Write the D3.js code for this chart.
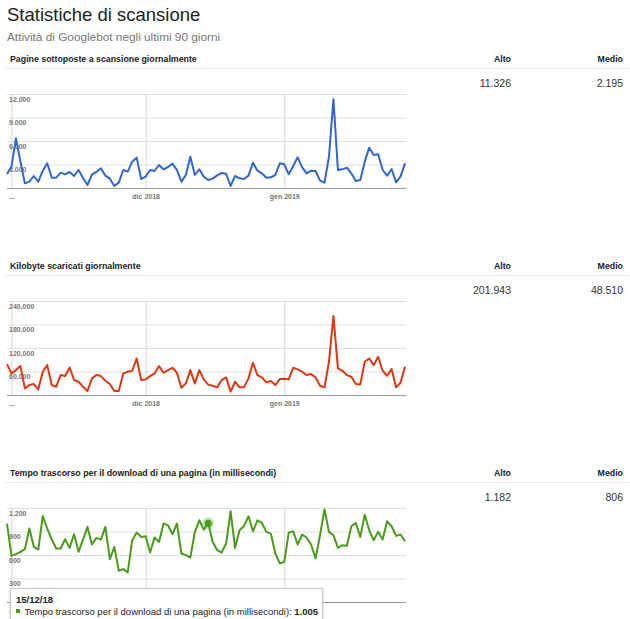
<!DOCTYPE html>
<html>
<head>
<meta charset="utf-8">
<script src="https://cdn.jsdelivr.net/npm/d3@7"></script>
<style>
	body { margin: 0; background: #fff; }
	svg { display: block; font-family: "Liberation Sans", Arial, sans-serif; }
</style>
</head>
<body>
<div class="canvas"></div>
<script>
// 90 giorni, dal 31/10/2018
const firstDay = '2018-10-31';
const monthTicks = ['2018-11-01', '2018-12-01', '2019-01-01'];
const monthLabels = ['...', 'dic 2018', 'gen 2019'];

const pagesCrawled = [
	1787, 2720, 6340, 3360, 596, 808, 1532, 808, 2213, 3150,
	1320, 1320, 1958, 1745, 2043, 1532, 2298, 1277, 383, 1745,
	2043, 2510, 1575, 1192, 255, 681, 2298, 2085, 3360, 3872,
	1150, 1447, 2298, 2170, 2936, 2383, 2681, 3107, 2298, 808,
	1660, 4000, 1660, 2383, 1447, 1021, 1192, 1617, 1915, 1830,
	255, 1532, 1234, 1149, 1575, 3234, 2213, 1872, 1319, 1362,
	1660, 3149, 3021, 1745, 2809, 3915, 2638, 1872, 2213, 2170,
	936, 681, 4000, 11326, 2298, 2383, 2596, 1872, 894, 1021,
	3362, 5149, 4213, 4298, 2298, 1575, 2426, 723, 1447, 3149
];
const kbDownloaded = [
	78900, 55100, 63600, 73800, 17000, 25400, 28000, 14400, 59400, 76300,
	25400, 21200, 50900, 48300, 70400, 38200, 33900, 21200, 10200, 42400,
	50900, 48300, 36500, 28000, 10200, 10200, 55100, 59400, 61900, 93300,
	38200, 39900, 48300, 55100, 73800, 56800, 63600, 69500, 56800, 18700,
	29700, 63600, 29700, 63600, 39900, 26500, 23700, 19500, 38200, 44900,
	8500, 33900, 19500, 19500, 42400, 82300, 50900, 44900, 32200, 35600,
	25400, 40700, 41600, 39900, 69500, 65300, 59400, 50900, 53400, 44900,
	23700, 19500, 84800, 201943, 67800, 61900, 50900, 46600, 28000, 27100,
	84800, 93300, 76300, 97500, 61900, 49200, 66100, 19500, 31400, 72100
];
const downloadMs = [
	1001, 589, 611, 640, 674, 937, 704, 670, 1098, 937,
	801, 683, 683, 801, 691, 865, 640, 797, 958, 734,
	818, 797, 958, 547, 704, 399, 420, 377, 789, 886,
	831, 840, 632, 823, 767, 1001, 979, 865, 1001, 619,
	598, 568, 895, 1043, 924, 1005, 767, 661, 632, 746,
	1158, 691, 916, 971, 1094, 903, 1043, 1009, 895, 873,
	619, 492, 513, 886, 903, 734, 861, 823, 734, 555,
	852, 1182, 895, 852, 691, 725, 717, 967, 1009, 831,
	1115, 916, 789, 895, 797, 1030, 967, 844, 861, 776
];

const sectionTitles = [
	'Pagine sottoposte a scansione giornalmente',
	'Kilobyte scaricati giornalmente',
	'Tempo trascorso per il download di una pagina (in millisecondi)'
];
const altoValues = [11326, 201943, 1182];
const medioValues = [2195, 48510, 806];
const yTicks = [
	[0, 3000, 6000, 9000, 12000],
	[0, 60000, 120000, 180000, 240000],
	[0, 300, 600, 900, 1200]
];
const series = [pagesCrawled, kbDownloaded, downloadMs];
const colors = ['#3366cc', '#dc3912', '#4a9a1c'];

const tooltipDay = '15/12/18';

const it = d3.formatLocale({decimal: ',', thousands: '.', grouping: [3], currency: ['€', '']});
const num = it.format(',');
const parseDay = d3.utcParse('%Y-%m-%d');
const parseTip = d3.utcParse('%d/%m/%y');

const start = parseDay(firstDay);
const days = pagesCrawled.map((v, i) => d3.utcDay.offset(start, i));

const svg = d3.select('.canvas').append('svg')
	.attr('width', 630)
	.attr('height', 619);

const defs = svg.append('defs');
defs.append('filter').attr('id', 'shadow')
	.attr('x', '-10%').attr('y', '-30%').attr('width', '120%').attr('height', '160%')
	.append('feDropShadow')
	.attr('dx', 0).attr('dy', 1).attr('stdDeviation', 1.2)
	.attr('flood-color', '#000').attr('flood-opacity', 0.25);

svg.append('text')
	.attr('x', 7).attr('y', 21)
	.attr('font-size', 18.5)
	.attr('fill', '#222')
	.text('Statistiche di scansione');

svg.append('text')
	.attr('x', 7).attr('y', 41)
	.attr('font-size', 11.8)
	.attr('fill', '#777')
	.text('Attività di Googlebot negli ultimi 90 giorni');

// chart area
const plotLeft = 7, plotRight = 406, plotTop = 94, plotBottom = 188, step = 207;
// tooltip box (x range) shown over the last chart
const tipLeft = 10.5, tipWidth = 312;

const x = d3.scaleUtc()
	.domain(d3.extent(days))
	.range([plotLeft, plotRight - 1]);

let tipPoint = null;

sectionTitles.forEach((title, k) => {
	const g = svg.append('g')
		.attr('transform', `translate(0, ${k * step})`);

	// header row
	g.append('text')
		.attr('x', 10).attr('y', 62)
		.attr('font-size', 8.8).attr('font-weight', 'bold').attr('fill', '#222')
		.text(title);
	g.append('text')
		.attr('x', 511).attr('y', 62).attr('text-anchor', 'end')
		.attr('font-size', 8.8).attr('font-weight', 'bold').attr('fill', '#222')
		.text('Alto');
	g.append('text')
		.attr('x', 623).attr('y', 62).attr('text-anchor', 'end')
		.attr('font-size', 8.8).attr('font-weight', 'bold').attr('fill', '#222')
		.text('Medio');
	g.append('line')
		.attr('x1', 5).attr('x2', 630)
		.attr('y1', 68.5).attr('y2', 68.5)
		.attr('stroke', '#ebebeb');
	g.append('text')
		.attr('x', 511).attr('y', 87).attr('text-anchor', 'end')
		.attr('font-size', 10.5).attr('fill', '#333')
		.text(num(altoValues[k]));
	g.append('text')
		.attr('x', 623).attr('y', 87).attr('text-anchor', 'end')
		.attr('font-size', 10.5).attr('fill', '#333')
		.text(num(medioValues[k]));

	const ticks = yTicks[k];
	const y = d3.scaleLinear()
		.domain([0, d3.max(ticks)])
		.range([plotBottom, plotTop]);

	// horizontal gridlines
	const yGrid = g.append('g')
		.attr('transform', `translate(${plotLeft}, 0)`)
		.call(d3.axisLeft(y).tickValues(ticks.slice(1)).tickSize(-(plotRight - plotLeft)).tickFormat(''));
	yGrid.select('.domain').remove();
	yGrid.selectAll('line').attr('stroke', '#e0e0e0');

	// vertical gridlines + month labels
	const xAxis = g.append('g')
		.attr('transform', `translate(0, ${plotBottom})`)
		.call(d3.axisBottom(x)
			.tickValues(monthTicks.map(parseDay))
			.tickSize(-(plotBottom - plotTop))
			.tickPadding(6)
			.tickFormat((d, i) => monthLabels[i]));
	xAxis.select('.domain').remove();
	xAxis.selectAll('line').attr('stroke', '#d6d6d6');
	xAxis.selectAll('text')
		.attr('font-size', 7).attr('font-weight', 'bold').attr('fill', '#777');
	xAxis.attr('font-family', null);

	// labels hidden under the tooltip in the last chart
	if (k === 2) {
		xAxis.selectAll('.tick text')
			.filter(d => x(d) > tipLeft + 10 && x(d) < tipLeft + tipWidth)
			.remove();
	}

	// baseline
	g.append('line')
		.attr('x1', plotLeft).attr('x2', plotRight)
		.attr('y1', y(0) + 0.5).attr('y2', y(0) + 0.5)
		.attr('stroke', '#999');

	// y labels inside the plot
	g.selectAll('.ylab')
		.data(ticks.slice(1))
		.enter().append('text')
		.attr('class', 'ylab')
		.attr('x', 9)
		.attr('y', d => y(d) + 7.5)
		.attr('font-size', 7).attr('font-weight', 'bold').attr('fill', '#777')
		.text(d => num(d));

	const line = d3.line()
		.x((d, i) => x(days[i]))
		.y(d => y(d));

	g.append('path')
		.datum(series[k])
		.attr('d', line)
		.attr('fill', 'none')
		.attr('stroke', colors[k])
		.attr('stroke-width', 2)
		.attr('stroke-linejoin', 'round');

	// hovered point on the last chart
	if (k === 2) {
		const tipDate = parseTip(tooltipDay);
		const idx = days.findIndex(d => +d === +tipDate);
		const px = x(days[idx]), py = y(series[k][idx]);

		g.append('circle')
			.attr('cx', px).attr('cy', py).attr('r', 6)
			.attr('fill', colors[k]).attr('opacity', 0.3);
		g.append('circle')
			.attr('cx', px).attr('cy', py).attr('r', 3.5)
			.attr('fill', colors[k]);

		tipPoint = {title: title, value: series[k][idx], color: colors[k], baseY: k * step + plotBottom};
	}
});

// tooltip, drawn over everything, just under the hovered chart's plot
const tipTop = tipPoint.baseY - 13.5;
const tip = svg.append('g');
tip.append('rect')
	.attr('x', tipLeft).attr('y', tipTop)
	.attr('width', tipWidth).attr('height', 44)
	.attr('fill', '#fff').attr('stroke', '#ccc')
	.attr('filter', 'url(#shadow)');
tip.append('text')
	.attr('x', 16).attr('y', tipTop + 14.5)
	.attr('font-size', 9.5).attr('font-weight', 'bold').attr('fill', '#222')
	.text(tooltipDay);
tip.append('rect')
	.attr('x', 16).attr('y', tipTop + 20.5)
	.attr('width', 4).attr('height', 4)
	.attr('fill', tipPoint.color);
const t = tip.append('text')
	.attr('x', 24.5).attr('y', tipTop + 26.5)
	.attr('font-size', 9.5).attr('fill', '#222');
t.append('tspan').text(tipPoint.title + ': ');
t.append('tspan').attr('font-weight', 'bold').text(num(tipPoint.value));
</script>
</body>
</html>
